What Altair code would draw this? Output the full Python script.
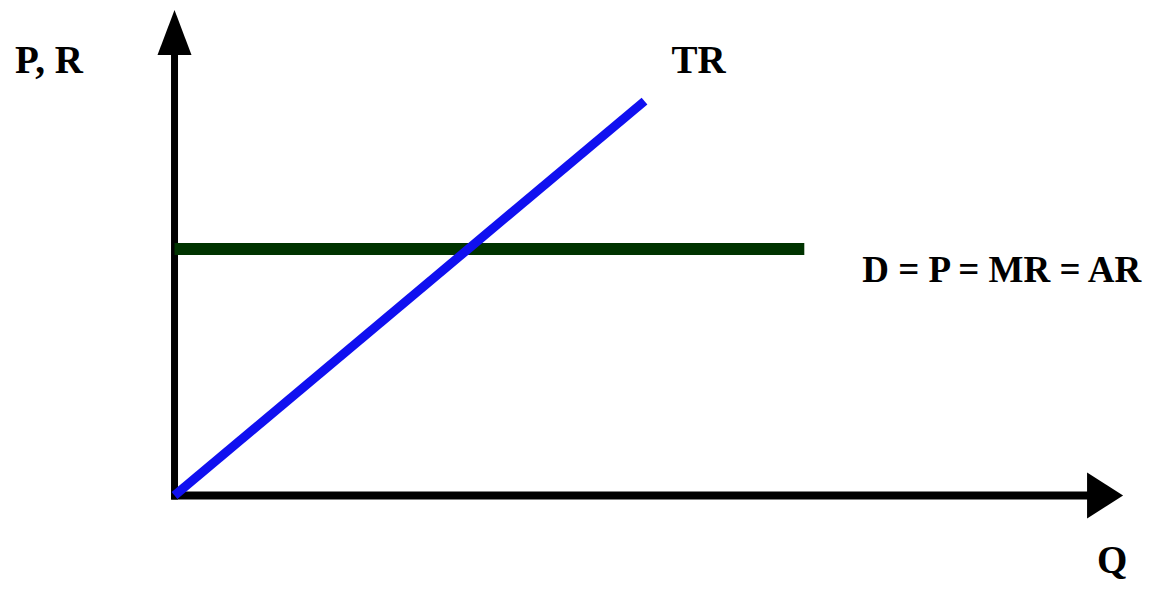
import altair as alt
import pandas as pd

# ---- data ----
tr_q = [0, 10]          # quantity
tr_r = [0, 16]          # total revenue
d_q = [0, 13.4]         # quantity
d_p = [10, 10]          # price = MR = AR (flat demand)

axis_q0 = [-0.07, 0]
axis_q1 = [19.44, 0]
axis_v0 = [0, -0.16]
axis_v1 = [0, 17.87]

arrow_right_q = [19.80]
arrow_right_v = [0]
arrow_up_q = [0]
arrow_up_v = [18.78]

labels = ["P, R", "TR", "D = P = MR = AR", "Q"]
label_q = [-2.67, 11.15, 17.60, 19.95]
label_v = [17.16, 17.16, 8.645, -3.16]
label_size = [39, 39, 37, 39]

# ---- scales ----
XD = [-3.543, 20.649]
YD = [-3.631, 19.777]
xs = alt.Scale(domain=XD, nice=False, zero=False)
ys = alt.Scale(domain=YD, nice=False, zero=False)

def X(f="q"):
    return alt.X(f"{f}:Q", scale=xs, axis=None)

def Y(f="v"):
    return alt.Y(f"{f}:Q", scale=ys, axis=None)

tr_df = pd.DataFrame({"q": tr_q, "v": tr_r})
d_df = pd.DataFrame({"q": d_q, "v": d_p})
axes_df = pd.DataFrame({"q": axis_q0, "q2": axis_q1, "v": axis_v0, "v2": axis_v1})
ar_df = pd.DataFrame({"q": arrow_right_q, "v": arrow_right_v})
au_df = pd.DataFrame({"q": arrow_up_q, "v": arrow_up_v})
lab_df = pd.DataFrame({"q": label_q, "v": label_v, "t": labels, "s": label_size})

x_axis = alt.Chart(axes_df.iloc[[0]]).mark_rule(color="black", strokeWidth=8).encode(
    x=X(), x2="q2:Q", y=Y(), y2="v2:Q")
y_axis = alt.Chart(axes_df.iloc[[1]]).mark_rule(color="black", strokeWidth=7).encode(
    x=X(), x2="q2:Q", y=Y(), y2="v2:Q")

arrow_right = alt.Chart(ar_df).mark_point(
    shape="M0.783,0L-0.783,1L-0.783,-1Z", size=2116, filled=True,
    color="black", opacity=1, strokeWidth=0).encode(x=X(), y=Y())
arrow_up = alt.Chart(au_df).mark_point(
    shape="M0,-1L0.756,1L-0.756,1Z", size=2025, filled=True,
    color="black", opacity=1, strokeWidth=0).encode(x=X(), y=Y())

d_line = alt.Chart(d_df).mark_line(color="#003300", strokeWidth=12, strokeCap="butt").encode(
    x=X(), y=Y())
tr_line = alt.Chart(tr_df).mark_line(color="#1010f0", strokeWidth=9, strokeCap="butt").encode(
    x=X(), y=Y())

text = alt.Chart(lab_df).mark_text(
    font="Liberation Serif", fontWeight="bold", color="black",
    align="center", baseline="alphabetic").encode(
    x=X(), y=Y(), text="t:N", size=alt.Size("s:Q", scale=None, legend=None))

chart = alt.layer(x_axis, y_axis, arrow_right, arrow_up, d_line, tr_line, text).properties(
    width=1137, height=577, padding=0,
    autosize=alt.AutoSizeParams(type="none"),
    background="white",
).configure_view(stroke=None)

chart.save("out.html", embed_options={"renderer": "svg", "actions": False})
